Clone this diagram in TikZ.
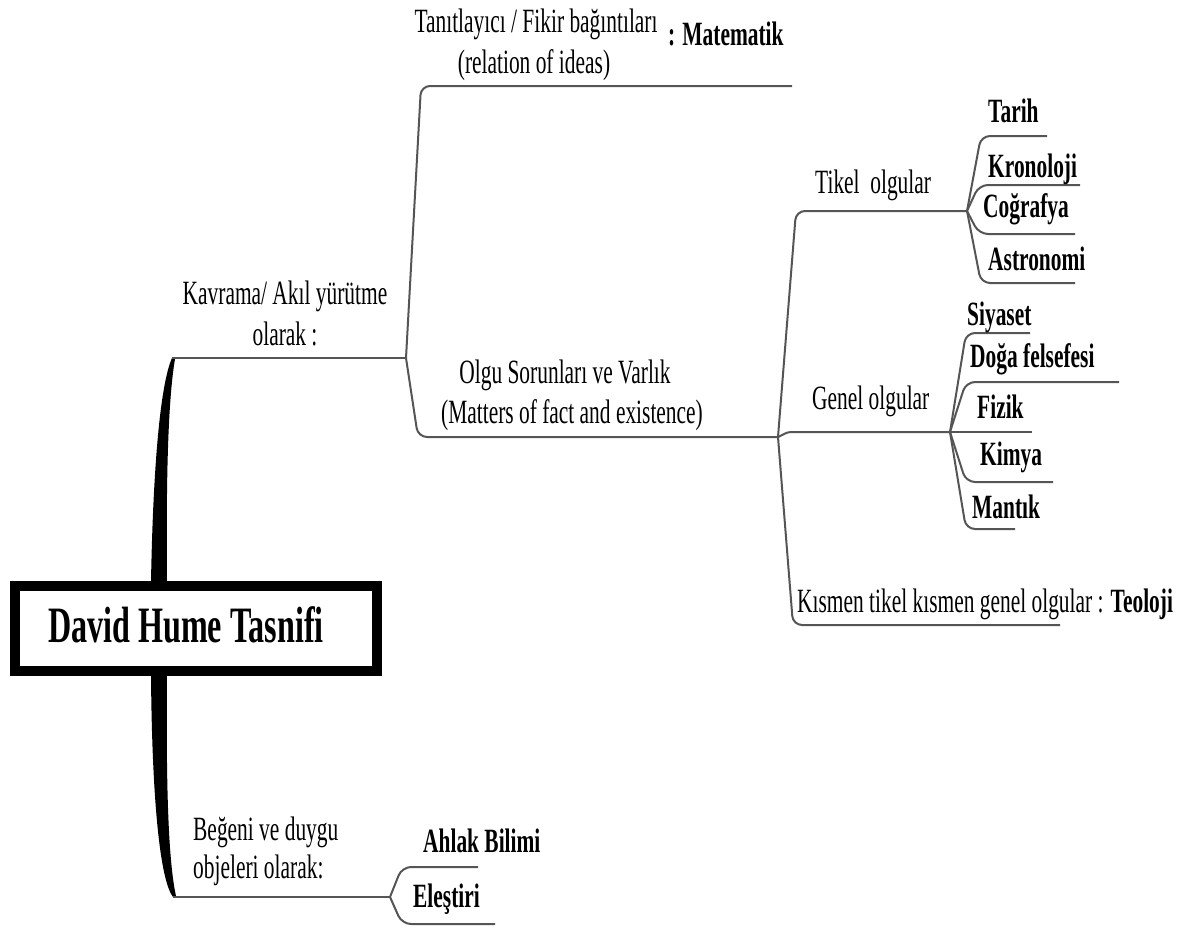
\documentclass[tikz,border=0pt]{standalone}
\usepackage{fontspec}
\setmainfont{Liberation Serif}[FakeStretch=0.63]
\definecolor{linegray}{RGB}{85,85,85}
\begin{document}
\begin{tikzpicture}[x=1pt,y=-1pt,
  branch/.style={draw=linegray, line width=2pt, rounded corners=9pt},
  txt/.style={inner sep=0pt, anchor=base west, font=\fontsize{34}{41}\selectfont},
  txtc/.style={txt, anchor=base},
  leaf/.style={txt, font=\fontsize{34}{41}\selectfont\bfseries},
  rootbox/.style={draw=black, line width=10pt, minimum width=362pt, minimum height=85pt,
    inner sep=0pt, font=\fontsize{51}{60}\selectfont\bfseries}]
\useasboundingbox (0,0) rectangle (1191,929);

% central box
\node[rootbox] (root) at (196,628.5) {};
\node[txt, font=\fontsize{51}{60}\selectfont\bfseries] (rootlbl) at (48,642) {David Hume Tasnifi};

% junction and corner coordinates
\coordinate (trunkTop) at (172,358);
\coordinate (jKavrama) at (406,358);
\coordinate (trunkBot) at (173,897);
\coordinate (jBegeni) at (390,897);

\coordinate (tanA) at (421,86);   \coordinate (tanB) at (792,86);
\coordinate (olguA) at (418,437); \coordinate (jOlgu) at (778,437);

\coordinate (tikelA) at (796,211); \coordinate (jTikel) at (967,211);
\coordinate (genelA) at (800,432); \coordinate (jGenel) at (950,432);
\coordinate (teoA) at (793,625);   \coordinate (teoB) at (1060,625);

\coordinate (tarihA) at (981,136); \coordinate (tarihB) at (1047,136);
\coordinate (kronA) at (979,185);  \coordinate (kronB) at (1080,185);
\coordinate (cogA) at (979,234);   \coordinate (cogB) at (1075,234);
\coordinate (astA) at (981,283);   \coordinate (astB) at (1075,283);

\coordinate (siyA) at (966,333);   \coordinate (siyB) at (1030,333);
\coordinate (dogaA) at (966,382);  \coordinate (dogaB) at (1119,382);
\coordinate (fizB) at (1032,432);
\coordinate (kimA) at (966,482);   \coordinate (kimB) at (1053,482);
\coordinate (manA) at (966,529);   \coordinate (manB) at (1015,529);

\coordinate (ahlA) at (402,867);   \coordinate (ahlB) at (478,867);
\coordinate (eleA) at (402,924);   \coordinate (eleB) at (495,924);

% tapered trunks out of the central box
\fill[black] (151,582) .. controls (153,470) and (160,385) .. (trunkTop)
  -- (175,359) .. controls (168,400) and (166,480) .. (167,582) -- cycle;
\fill[black] (151,675) .. controls (152,800) and (160,880) .. (trunkBot)
  -- (176,896) .. controls (168,860) and (166,780) .. (167,675) -- cycle;

% connectors
\draw[branch] (trunkTop) -- (jKavrama);
\draw[branch] (trunkBot) -- (jBegeni);
\draw[branch] (jKavrama) -- (tanA) -- (tanB);
\draw[branch] (jKavrama) -- (olguA) -- (jOlgu);
\draw[branch] (jOlgu) -- (tikelA) -- (jTikel);
\draw[branch] (jOlgu) .. controls (788,432) .. (genelA) -- (jGenel);
\draw[branch] (jOlgu) -- (teoA) -- (teoB);
\draw[branch] (jTikel) -- (tarihA) -- (tarihB);
\draw[branch] (jTikel) -- (kronA) -- (kronB);
\draw[branch] (jTikel) -- (cogA) -- (cogB);
\draw[branch] (jTikel) -- (astA) -- (astB);
\draw[branch] (jGenel) -- (siyA) -- (siyB);
\draw[branch] (jGenel) -- (dogaA) -- (dogaB);
\draw[branch] (jGenel) -- (fizB);
\draw[branch] (jGenel) -- (kimA) -- (kimB);
\draw[branch] (jGenel) -- (manA) -- (manB);
\draw[branch] (jBegeni) -- (ahlA) -- (ahlB);
\draw[branch] (jBegeni) -- (eleA) -- (eleB);

% labels
\node[txtc] (kav1) at (285,304) {Kavrama/ Akıl yürütme};
\node[txtc] (kav2) at (285,345) {olarak :};
\node[txtc] (tan1) at (536,32) {Tanıtlayıcı / Fikir bağıntıları};
\node[txtc] (tan2) at (534,73) {(relation of ideas)};
\node[leaf] (mat) at (668,45) {: Matematik};
\node[txtc] (olgu1) at (565,383) {Olgu Sorunları ve Varlık};
\node[txtc] (olgu2) at (572,423) {(Matters of fact and existence)};
\node[txt] (tikel) at (815,193) {Tikel\ \ olgular};
\node[txt] (genel) at (812,409) {Genel olgular};
\node[txt] (teo) at (797,612) {Kısmen tikel kısmen genel olgular : \textbf{Teoloji}};
\node[leaf] (tarih) at (988,122) {Tarih};
\node[leaf] (kron) at (988,177) {Kronoloji};
\node[leaf] (cog) at (983,217) {Coğrafya};
\node[leaf] (ast) at (988,270) {Astronomi};
\node[leaf] (siy) at (967,325) {Siyaset};
\node[leaf] (doga) at (970,367) {Doğa felsefesi};
\node[leaf] (fiz) at (977,418) {Fizik};
\node[leaf] (kim) at (980,465) {Kimya};
\node[leaf] (man) at (972,518) {Mantık};
\node[txt] (beg1) at (193,840) {Beğeni ve duygu};
\node[txt] (beg2) at (193,878) {objeleri olarak:};
\node[leaf] (ahl) at (423,852) {Ahlak Bilimi};
\node[leaf] (ele) at (413,907) {Eleştiri};
\end{tikzpicture}
\end{document}
